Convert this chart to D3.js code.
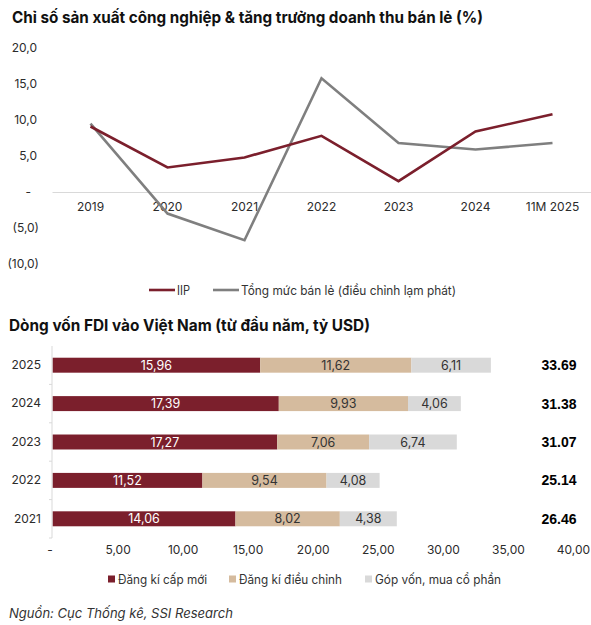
<html>
<head>
  <meta charset="utf-8">
  <script src="https://d3js.org/d3.v7.min.js"></script>
  <style>
    body { margin: 0; background: #fff; }
    text { font-family: Inter, "Noto Sans", sans-serif; fill: #262626; }
    .title { font-size: 16px; font-weight: 700; fill: #111; }
    .tick text { font-size: 12px; fill: #2b2b2b; }
    .legend text { font-size: 12.5px; fill: #333; }
    .total { font-family: "Liberation Sans", Arial, sans-serif; font-size: 14px; font-weight: 700; fill: #000; }
    .source { font-size: 13px; font-style: italic; fill: #333; }
  </style>
</head>
<body>
  <svg id="chart" width="591" height="625"></svg>
  <script>
    // Chart 1: IIP & retail growth (%)
    const years = ["2019", "2020", "2021", "2022", "2023", "2024", "11M 2025"];
    const iip = [9.1, 3.4, 4.8, 7.8, 1.5, 8.4, 10.8];
    const retail = [9.5, -3.0, -6.7, 15.8, 6.8, 5.9, 6.8];
    const yTicks = [-10, -5, 0, 5, 10, 15, 20];

    // Chart 2: FDI inflow (bn USD)
    const fdiYears = ["2025", "2024", "2023", "2022", "2021"];
    const newReg = [15.96, 17.39, 17.27, 11.52, 14.06];
    const adjReg = [11.62, 9.93, 7.06, 9.54, 8.02];
    const capContrib = [6.11, 4.06, 6.74, 4.08, 4.38];
    const xTicks = [0, 5, 10, 15, 20, 25, 30, 35, 40];

    const red = "#7b1f2c";
    const grey = "#7f7f7f";
    const beige = "#d5bb9e";
    const light = "#d9d9d9";

    const vn = d3.formatLocale({ decimal: ",", thousands: ".", grouping: [3], currency: ["", ""] });
    const f1 = vn.format(".1f");
    const f2 = vn.format(".2f");

    const svg = d3.select("#chart");

    // ---------- line chart ----------
    svg.append("text").attr("class", "title")
      .attr("x", 12).attr("y", 23)
      .attr("textLength", 471).attr("lengthAdjust", "spacingAndGlyphs")
      .text("Chỉ số sản xuất công nghiệp & tăng trưởng doanh thu bán lẻ (%)");

    const x1 = d3.scaleBand().domain(years).range([52, 591]);
    const y1 = d3.scaleLinear().domain([-10, 20]).range([264, 48]);

    const yAxis1 = svg.append("g")
      .attr("transform", "translate(39,0)")
      .call(d3.axisLeft(y1).tickValues(yTicks).tickSize(0).tickPadding(0)
        .tickFormat(d => d < 0 ? "(" + f1(-d) + ")" : d === 0 ? "-" : f1(d)));
    yAxis1.select(".domain").remove();
    yAxis1.selectAll(".tick text")
      .attr("dx", d => d < 0 ? 0 : d === 0 ? -8 : -2);

    const xAxis1 = svg.append("g")
      .attr("transform", "translate(0," + y1(0) + ")")
      .call(d3.axisBottom(x1).tickSize(0).tickPadding(10));
    xAxis1.select(".domain").attr("stroke", light);

    const line1 = d3.line()
      .x((d, i) => x1(years[i]) + x1.bandwidth() / 2)
      .y(d => y1(d));

    svg.append("path").datum(retail)
      .attr("d", line1).attr("fill", "none")
      .attr("stroke", grey).attr("stroke-width", 2.6);
    svg.append("path").datum(iip)
      .attr("d", line1).attr("fill", "none")
      .attr("stroke", red).attr("stroke-width", 2.6);

    const lg1 = svg.append("g").attr("class", "legend");
    const lineItems = [
      { name: "IIP", color: red, x: 149, w: 13 },
      { name: "Tổng mức bán lẻ (điều chỉnh lạm phát)", color: grey, x: 213, w: 215 }
    ];
    lineItems.forEach(it => {
      lg1.append("line")
        .attr("x1", it.x).attr("x2", it.x + 26)
        .attr("y1", 290).attr("y2", 290)
        .attr("stroke", it.color).attr("stroke-width", 2.6);
      lg1.append("text")
        .attr("x", it.x + 28).attr("y", 294.5)
        .attr("textLength", it.w).attr("lengthAdjust", "spacingAndGlyphs")
        .text(it.name);
    });

    // ---------- stacked bar chart ----------
    svg.append("text").attr("class", "title")
      .attr("x", 9).attr("y", 331)
      .attr("textLength", 361).attr("lengthAdjust", "spacingAndGlyphs")
      .text("Dòng vốn FDI vào Việt Nam (từ đầu năm, tỷ USD)");

    const rows = fdiYears.map((y, i) => ({ year: y, a: newReg[i], b: adjReg[i], c: capContrib[i] }));
    const keys = ["a", "b", "c"];
    const fills = { a: red, b: beige, c: light };
    const labelFill = { a: "#fff", b: "#333", c: "#333" };

    const x2 = d3.scaleLinear().domain([0, 40]).range([52.5, 573]);
    const y2 = d3.scaleBand().domain(fdiYears).range([346, 538]).paddingInner(0.61).paddingOuter(0.305);
    const yb = d3.scaleBand().domain(fdiYears).range([346, 538]);

    const stack = d3.stack().keys(keys)(rows);

    const layers = svg.append("g").selectAll("g")
      .data(stack).join("g")
      .attr("fill", d => fills[d.key]);

    layers.selectAll("rect")
      .data(d => d).join("rect")
      .attr("x", d => x2(d[0]))
      .attr("y", d => y2(d.data.year))
      .attr("width", d => x2(d[1]) - x2(d[0]))
      .attr("height", y2.bandwidth());

    layers.each(function (layer) {
      d3.select(this).selectAll("text")
        .data(layer).join("text")
        .attr("x", d => (x2(d[0]) + x2(d[1])) / 2)
        .attr("y", d => y2(d.data.year) + y2.bandwidth() / 2)
        .attr("dy", "0.36em")
        .attr("text-anchor", "middle")
        .style("font-size", "12.5px")
        .style("fill", labelFill[layer.key])
        .text(d => f2(d[1] - d[0]));
    });

    // category axis with boundary ticks
    const yAxis2 = svg.append("g").attr("transform", "translate(52,0)");
    yAxis2.append("line")
      .attr("x1", 0).attr("x2", 0).attr("y1", 346).attr("y2", 538)
      .attr("stroke", light);
    yAxis2.selectAll(".bound")
      .data(fdiYears).join("line").attr("class", "bound")
      .attr("x1", -3).attr("x2", 0)
      .attr("y1", d => yb(d) + yb.bandwidth()).attr("y2", d => yb(d) + yb.bandwidth())
      .attr("stroke", light);
    const yLab = svg.append("g")
      .attr("transform", "translate(41,0)")
      .call(d3.axisLeft(yb).tickSize(0).tickPadding(0));
    yLab.select(".domain").remove();

    const xAxis2 = svg.append("g")
      .attr("transform", "translate(0,545)")
      .call(d3.axisBottom(x2).tickValues(xTicks).tickSize(0).tickPadding(0)
        .tickFormat(d => d === 0 ? "-" : f2(d)));
    xAxis2.select(".domain").remove();
    xAxis2.selectAll(".tick text").attr("dx", d => d === 0 ? -3 : 0);

    // totals
    svg.append("g").selectAll("text")
      .data(rows).join("text")
      .attr("class", "total")
      .attr("x", 559)
      .attr("y", d => y2(d.year) + y2.bandwidth() / 2)
      .attr("dy", "0.36em")
      .attr("text-anchor", "middle")
      .text(d => d3.format(".2f")(d.a + d.b + d.c));

    const lg2 = svg.append("g").attr("class", "legend");
    const barItems = [
      { name: "Đăng kí cấp mới", color: red, x: 108, w: 89 },
      { name: "Đăng kí điều chỉnh", color: beige, x: 229, w: 103 },
      { name: "Góp vốn, mua cổ phần", color: light, x: 365, w: 126 }
    ];
    barItems.forEach(it => {
      lg2.append("rect")
        .attr("x", it.x).attr("y", 575.5)
        .attr("width", 7).attr("height", 7)
        .attr("fill", it.color);
      lg2.append("text")
        .attr("x", it.x + 10).attr("y", 583.5)
        .attr("textLength", it.w).attr("lengthAdjust", "spacingAndGlyphs")
        .text(it.name);
    });

    svg.append("text").attr("class", "source")
      .attr("x", 9).attr("y", 618)
      .attr("textLength", 224).attr("lengthAdjust", "spacingAndGlyphs")
      .text("Nguồn: Cục Thống kê, SSI Research");
  </script>
</body>
</html>
